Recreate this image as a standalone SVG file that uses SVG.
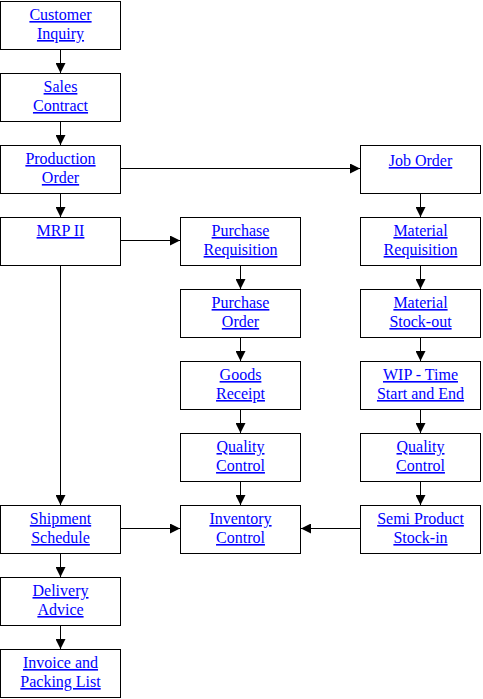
<svg xmlns="http://www.w3.org/2000/svg" width="483" height="699" viewBox="0 0 483 699">
<defs>
<style>
.box{fill:#fff;stroke:#000;stroke-width:1}
.t{font-family:"Liberation Serif","Times New Roman",serif;font-size:16px;fill:#0000ff;text-anchor:middle;text-decoration:underline}
.c{stroke:#000;stroke-width:1;fill:none}
</style>
<marker id="ah" viewBox="0 0 10 10" refX="10" refY="5" markerWidth="10" markerHeight="10" markerUnits="userSpaceOnUse" orient="auto"><path d="M0,0 L10,5 L0,10 z" fill="#000"/></marker>
</defs>
<rect width="483" height="699" fill="#fff"/>
<g id="connectors">
<path class="c" d="M60.5,49.5 V73" marker-end="url(#ah)"/>
<path class="c" d="M60.5,121.5 V145" marker-end="url(#ah)"/>
<path class="c" d="M60.5,193.5 V217" marker-end="url(#ah)"/>
<path class="c" d="M60.5,265.5 V505" marker-end="url(#ah)"/>
<path class="c" d="M60.5,553.5 V577" marker-end="url(#ah)"/>
<path class="c" d="M60.5,625.5 V649" marker-end="url(#ah)"/>
<path class="c" d="M120.5,168.5 H360" marker-end="url(#ah)"/>
<path class="c" d="M120.5,240.5 H180" marker-end="url(#ah)"/>
<path class="c" d="M120.5,528.5 H180" marker-end="url(#ah)"/>
<path class="c" d="M360.5,528.5 H301" marker-end="url(#ah)"/>
<path class="c" d="M240.5,265.5 V289" marker-end="url(#ah)"/>
<path class="c" d="M240.5,337.5 V361" marker-end="url(#ah)"/>
<path class="c" d="M240.5,409.5 V433" marker-end="url(#ah)"/>
<path class="c" d="M240.5,481.5 V505" marker-end="url(#ah)"/>
<path class="c" d="M420.5,193.5 V217" marker-end="url(#ah)"/>
<path class="c" d="M420.5,265.5 V289" marker-end="url(#ah)"/>
<path class="c" d="M420.5,337.5 V361" marker-end="url(#ah)"/>
<path class="c" d="M420.5,409.5 V433" marker-end="url(#ah)"/>
<path class="c" d="M420.5,481.5 V505" marker-end="url(#ah)"/>
</g>
<g id="n1"><rect class="box" x="0.5" y="1.5" width="120" height="48"/><text class="t" x="60.5" y="20">Customer</text><text class="t" x="60.5" y="39">Inquiry</text></g>
<g id="n2"><rect class="box" x="0.5" y="73.5" width="120" height="48"/><text class="t" x="60.5" y="92">Sales</text><text class="t" x="60.5" y="111">Contract</text></g>
<g id="n3"><rect class="box" x="0.5" y="145.5" width="120" height="48"/><text class="t" x="60.5" y="164">Production</text><text class="t" x="60.5" y="183">Order</text></g>
<g id="n4"><rect class="box" x="0.5" y="217.5" width="120" height="48"/><text class="t" x="60.5" y="236">MRP II</text></g>
<g id="n5"><rect class="box" x="0.5" y="505.5" width="120" height="48"/><text class="t" x="60.5" y="524">Shipment</text><text class="t" x="60.5" y="543">Schedule</text></g>
<g id="n6"><rect class="box" x="0.5" y="577.5" width="120" height="48"/><text class="t" x="60.5" y="596">Delivery</text><text class="t" x="60.5" y="615">Advice</text></g>
<g id="n7"><rect class="box" x="0.5" y="649.5" width="120" height="48"/><text class="t" x="60.5" y="668">Invoice and</text><text class="t" x="60.5" y="687">Packing List</text></g>
<g id="n8"><rect class="box" x="180.5" y="217.5" width="120" height="48"/><text class="t" x="240.5" y="236">Purchase</text><text class="t" x="240.5" y="255">Requisition</text></g>
<g id="n9"><rect class="box" x="180.5" y="289.5" width="120" height="48"/><text class="t" x="240.5" y="308">Purchase</text><text class="t" x="240.5" y="327">Order</text></g>
<g id="n10"><rect class="box" x="180.5" y="361.5" width="120" height="48"/><text class="t" x="240.5" y="380">Goods</text><text class="t" x="240.5" y="399">Receipt</text></g>
<g id="n11"><rect class="box" x="180.5" y="433.5" width="120" height="48"/><text class="t" x="240.5" y="452">Quality</text><text class="t" x="240.5" y="471">Control</text></g>
<g id="n12"><rect class="box" x="180.5" y="505.5" width="120" height="48"/><text class="t" x="240.5" y="524">Inventory</text><text class="t" x="240.5" y="543">Control</text></g>
<g id="n13"><rect class="box" x="360.5" y="145.5" width="120" height="48"/><text class="t" x="420.5" y="166">Job Order</text></g>
<g id="n14"><rect class="box" x="360.5" y="217.5" width="120" height="48"/><text class="t" x="420.5" y="236">Material</text><text class="t" x="420.5" y="255">Requisition</text></g>
<g id="n15"><rect class="box" x="360.5" y="289.5" width="120" height="48"/><text class="t" x="420.5" y="308">Material</text><text class="t" x="420.5" y="327">Stock-out</text></g>
<g id="n16"><rect class="box" x="360.5" y="361.5" width="120" height="48"/><text class="t" x="420.5" y="380">WIP - Time</text><text class="t" x="420.5" y="399">Start and End</text></g>
<g id="n17"><rect class="box" x="360.5" y="433.5" width="120" height="48"/><text class="t" x="420.5" y="452">Quality</text><text class="t" x="420.5" y="471">Control</text></g>
<g id="n18"><rect class="box" x="360.5" y="505.5" width="120" height="48"/><text class="t" x="420.5" y="524">Semi Product</text><text class="t" x="420.5" y="543">Stock-in</text></g>
</svg>
